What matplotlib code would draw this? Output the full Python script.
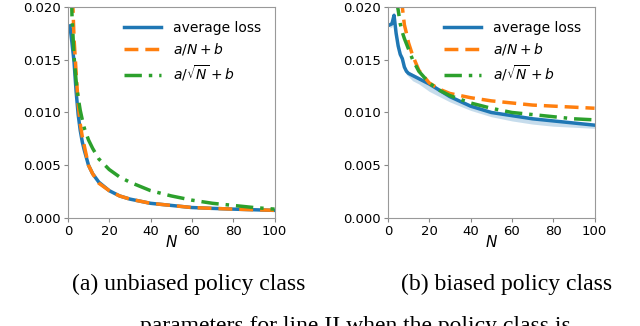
import numpy as np
import matplotlib
matplotlib.use("Agg")
import matplotlib.pyplot as plt

# sample sizes the curves were read at
n_vals = [1, 2, 3, 4, 5, 6, 7, 8, 10, 12, 15, 20, 25, 30, 40, 50, 60, 70, 80,
          90, 100]

# (a) unbiased policy class
unb_loss = [0.0182, 0.0166, 0.0148, 0.0120, 0.0098, 0.0083, 0.0072, 0.0064,
            0.0050, 0.0042, 0.0034, 0.0026, 0.0021, 0.0018, 0.0014, 0.0012,
            0.0010, 0.00092, 0.00085, 0.00079, 0.00073]
unb_fit_n = [0.045, 0.0225, 0.0170, 0.0138, 0.0108, 0.0089, 0.0077, 0.0068,
             0.0050, 0.0042, 0.0033, 0.0026, 0.0021, 0.0018, 0.0014, 0.0012,
             0.0010, 0.00092, 0.00085, 0.00079, 0.00074]
unb_fit_sqrt = [0.0281, 0.0192, 0.0153, 0.0130, 0.0114, 0.0102, 0.0093,
                0.0085, 0.0074, 0.0066, 0.0056, 0.0046, 0.0039, 0.0034,
                0.0026, 0.0021, 0.0017, 0.0014, 0.0012, 0.0010, 0.00085]

# (b) biased policy class
b_n = [1, 2, 3, 4, 5, 6, 7, 8, 9, 10, 12, 15, 20, 25, 30, 40, 50, 60, 70, 80,
       90, 100]
b_loss = [0.0183, 0.0184, 0.0192, 0.0175, 0.0163, 0.0155, 0.0151, 0.0143,
          0.0139, 0.0137, 0.0135, 0.0132, 0.0127, 0.0121, 0.0115, 0.0106,
          0.0100, 0.0097, 0.0094, 0.0092, 0.0090, 0.0088]
b_loss_lo = [0.0180, 0.0181, 0.0188, 0.0171, 0.0160, 0.0151, 0.0146, 0.0140,
             0.0136, 0.0134, 0.0130, 0.0127, 0.0120, 0.0115, 0.0110, 0.0102,
             0.0096, 0.0092, 0.0089, 0.0087, 0.0086, 0.0085]
b_loss_hi = [0.0186, 0.0187, 0.0195, 0.0178, 0.0166, 0.0157, 0.0153, 0.0145,
             0.0141, 0.0139, 0.0137, 0.0134, 0.0129, 0.0123, 0.0117, 0.0108,
             0.0102, 0.0098, 0.0095, 0.0093, 0.0091, 0.0089]
b_fit_n = [0.080, 0.045, 0.033, 0.027, 0.0237, 0.0214, 0.0200, 0.0183,
           0.0175, 0.0166, 0.0154, 0.0140, 0.0128, 0.0122, 0.0118, 0.0114,
           0.0111, 0.0109, 0.0107, 0.0106, 0.0105, 0.0104]
b_fit_sqrt = [0.034, 0.026, 0.0225, 0.0208, 0.0197, 0.0184, 0.0176, 0.0170,
              0.0165, 0.0160, 0.0150, 0.0139, 0.0128, 0.0121, 0.0116, 0.0109,
              0.0104, 0.0100, 0.0098, 0.0096, 0.0094, 0.0093]

captions = ["(a) unbiased policy class", "(b) biased policy class"]
leg_labels = ["average loss", r"$a/N+b$", r"$a/\sqrt{N}+b$"]
# body text of the page, cut off at the bottom edge of the crop (as in the
# reference screenshot)
page_text = "parameters for line II when the policy class is"

fig = plt.figure(figsize=(6.4, 3.26), dpi=100)
ax_l = fig.add_axes([0.106, 0.331, 0.323, 0.648])
ax_r = fig.add_axes([0.606, 0.331, 0.323, 0.648])

def drawPanel(ax, xs_loss, loss, xs_fit, fit_n, fit_sqrt, lo=None, hi=None):
  if lo is not None:
    ax.fill_between(xs_loss, lo, hi, color="#1f77b4", alpha=0.25, lw=0)
  ax.plot(xs_loss, loss, color="#1f77b4", lw=2.5, label=leg_labels[0])
  ax.plot(xs_fit, fit_n, color="#ff7f0e", lw=2.5, dashes=(4, 2),
          label=leg_labels[1])
  ax.plot(xs_fit, fit_sqrt, color="#2ca02c", lw=2.5, dashes=(5, 2, 1, 2),
          label=leg_labels[2])
  ax.set_xlim(0, 100)
  ax.set_ylim(0, 0.02)
  ax.set_xticks([0, 20, 40, 60, 80, 100])
  ax.set_yticks([0.0, 0.005, 0.01, 0.015, 0.02])
  ax.yaxis.set_major_formatter(matplotlib.ticker.FormatStrFormatter("%.3f"))
  ax.tick_params(labelsize=9.5, length=3, color="#888888", pad=2)
  for sp in ax.spines.values():
    sp.set_color("#999999")
  ax.set_xlabel(r"$N$", fontsize=11, labelpad=-3)
  ax.legend(loc="upper right", frameon=False, fontsize=10, handlelength=2.7,
            labelspacing=0.45, borderaxespad=0.6)

drawPanel(ax_l, n_vals, unb_loss, n_vals, unb_fit_n, unb_fit_sqrt)
drawPanel(ax_r, b_n, b_loss, b_n, b_fit_n, b_fit_sqrt, b_loss_lo, b_loss_hi)

fig.text(189 / 640, 1 - 284 / 326, captions[0], ha="center", va="center",
         family="Liberation Serif", fontsize=17)
fig.text(507 / 640, 1 - 284 / 326, captions[1], ha="center", va="center",
         family="Liberation Serif", fontsize=17)
fig.text(355 / 640, 1 - 316 / 326, page_text, ha="center", va="top",
         family="Liberation Serif", fontsize=17)

fig.savefig("out.png", dpi=100)
